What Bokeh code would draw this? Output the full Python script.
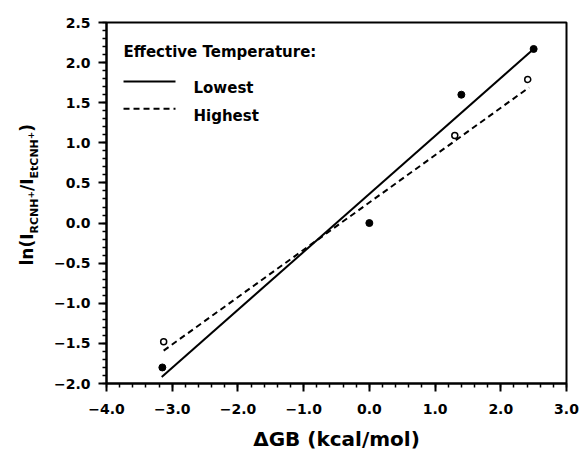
import numpy as np
from bokeh.plotting import figure
from bokeh.layouts import row
from bokeh.models import Label, FixedTicker, Range1d
from bokeh.embed import file_html
from bokeh.resources import INLINE

# ---- data ----
low_x = [-3.15, 0.0, 1.40, 2.50]
low_y = [-1.80, 0.00, 1.60, 2.17]
high_x = [-3.13, 1.30, 2.41]
high_y = [-1.48, 1.09, 1.79]

low_fit_x = [-3.16, 2.50]
low_fit_y = [-1.92, 2.17]
high_fit_x = [-3.13, 2.43]
high_fit_y = [-1.59, 1.69]

x_ticks = [-4.0, -3.0, -2.0, -1.0, 0.0, 1.0, 2.0, 3.0]
x_tick_labels = ["\u22124.0", "\u22123.0", "\u22122.0", "\u22121.0", "0.0", "1.0", "2.0", "3.0"]
y_ticks = [-2.0, -1.5, -1.0, -0.5, 0.0, 0.5, 1.0, 1.5, 2.0, 2.5]
y_tick_labels = ["\u22122.0", "\u22121.5", "\u22121.0", "\u22120.5", "0.0", "0.5", "1.0", "1.5", "2.0", "2.5"]

series_names = ["Lowest", "Highest"]
legend_title = "Effective Temperature:"
x_label = "\u0394GB (kcal/mol)"
# y label pieces: (text, role)
y_label_parts = [("ln(I", "main"), ("RCNH", "sub"), ("+", "sup"),
                 ("/I", "main"), ("EtCNH", "sub"), ("+", "sup"), (")", "main")]

FONT = "DejaVu Sans"
W_LAB = 40
TOTAL_W, TOTAL_H = 582, 459
B_TOP, B_BOTTOM = 22, 76

# ---------- main plot ----------
p = figure(width=TOTAL_W - W_LAB, height=TOTAL_H, x_range=Range1d(-4, 3), y_range=Range1d(-2, 2.5),
           output_backend="svg", toolbar_location=None,
           min_border_left=106 - W_LAB, min_border_right=16,
           min_border_top=B_TOP, min_border_bottom=B_BOTTOM)
p.grid.visible = False
p.outline_line_color = "black"
p.outline_line_width = 2
p.background_fill_color = "white"
p.border_fill_color = "white"

x_minor = [round(v, 2) for v in np.arange(-4.0, 3.01, 0.2)]
y_minor = [round(v, 2) for v in np.arange(-2.0, 2.51, 0.1)]
p.xaxis.ticker = FixedTicker(ticks=x_ticks, minor_ticks=x_minor)
p.yaxis.ticker = FixedTicker(ticks=y_ticks, minor_ticks=y_minor)
p.xaxis.major_label_overrides = {t: l for t, l in zip(x_ticks, x_tick_labels)}
p.yaxis.major_label_overrides = {t: l for t, l in zip(y_ticks, y_tick_labels)}

for ax in (p.xaxis[0], p.yaxis[0]):
    ax.axis_line_width = 2
    ax.axis_line_color = "black"
    ax.major_tick_line_width = 2
    ax.minor_tick_line_width = 1.5
    ax.major_tick_in = 0
    ax.minor_tick_in = 0
    ax.major_tick_out = 8
    ax.minor_tick_out = 4
    ax.major_label_text_font = FONT
    ax.major_label_text_font_style = "bold"
    ax.major_label_text_font_size = "14px"
    ax.major_label_text_color = "black"
p.yaxis.major_label_standoff = 8
p.xaxis.major_label_standoff = 12

p.xaxis.axis_label = x_label
p.xaxis.axis_label_text_font = FONT
p.xaxis.axis_label_text_font_style = "bold"
p.xaxis.axis_label_text_font_size = "20px"
p.xaxis.axis_label_text_color = "black"
p.xaxis.axis_label_standoff = 10

# fit lines
p.line(low_fit_x, low_fit_y, line_color="black", line_width=2)
p.line(high_fit_x, high_fit_y, line_color="black", line_width=2, line_dash="6 4")

# points
p.scatter(low_x, low_y, marker="circle", size=7, fill_color="black", line_color="black")
p.scatter(high_x, high_y, marker="circle", size=6, fill_color="white", line_color="black", line_width=1.5)

# legend (drawn manually)
p.add_layout(Label(x=-3.741, y=2.130, text=legend_title, text_font=FONT, text_font_style="bold",
                   text_font_size="15px", text_baseline="alphabetic", text_color="black"))
p.line([-3.741, -2.950], [1.764, 1.764], line_color="black", line_width=2)
p.line([-3.741, -2.950], [1.424, 1.424], line_color="black", line_width=2, line_dash="6 4")
p.add_layout(Label(x=-2.676, y=1.686, text=series_names[0], text_font=FONT, text_font_style="bold",
                   text_font_size="15px", text_baseline="alphabetic", text_color="black"))
p.add_layout(Label(x=-2.676, y=1.340, text=series_names[1], text_font=FONT, text_font_style="bold",
                   text_font_size="15px", text_baseline="alphabetic", text_color="black"))

# ---------- y-axis title panel (rotated text with sub/superscripts) ----------
# frame aligned with the main plot's frame; data units = page pixels
lab = figure(width=W_LAB, height=TOTAL_H, x_range=Range1d(0, W_LAB),
             y_range=Range1d(TOTAL_H - B_BOTTOM, B_TOP),
             output_backend="svg", toolbar_location=None,
             min_border_left=0, min_border_right=0, min_border_top=B_TOP, min_border_bottom=B_BOTTOM,
             x_axis_location=None, y_axis_location=None)
lab.grid.visible = False
lab.outline_line_color = None
lab.background_fill_color = "white"
lab.border_fill_color = "white"

adv = {"l": .343, "n": .712, "(": .457, ")": .457, "I": .372, "R": .770, "C": .734,
       "N": .837, "H": .837, "+": .838, "/": .365, "E": .683, "t": .478}
style = {"main": (17, 26.0), "sub": (11, 33.5), "sup": (9, 29.5)}
ycur = 265.0
for txt, role in y_label_parts:
    size, xb = style[role]
    lab.add_layout(Label(x=xb, y=ycur, text=txt, angle=np.pi / 2, text_font=FONT,
                         text_font_style="bold", text_font_size=f"{size}px",
                         text_baseline="alphabetic", text_align="left", text_color="black"))
    ycur -= sum(adv[c] for c in txt) * size

layout = row(lab, p, spacing=0)
open("out.html", "w").write(file_html(layout, INLINE))
